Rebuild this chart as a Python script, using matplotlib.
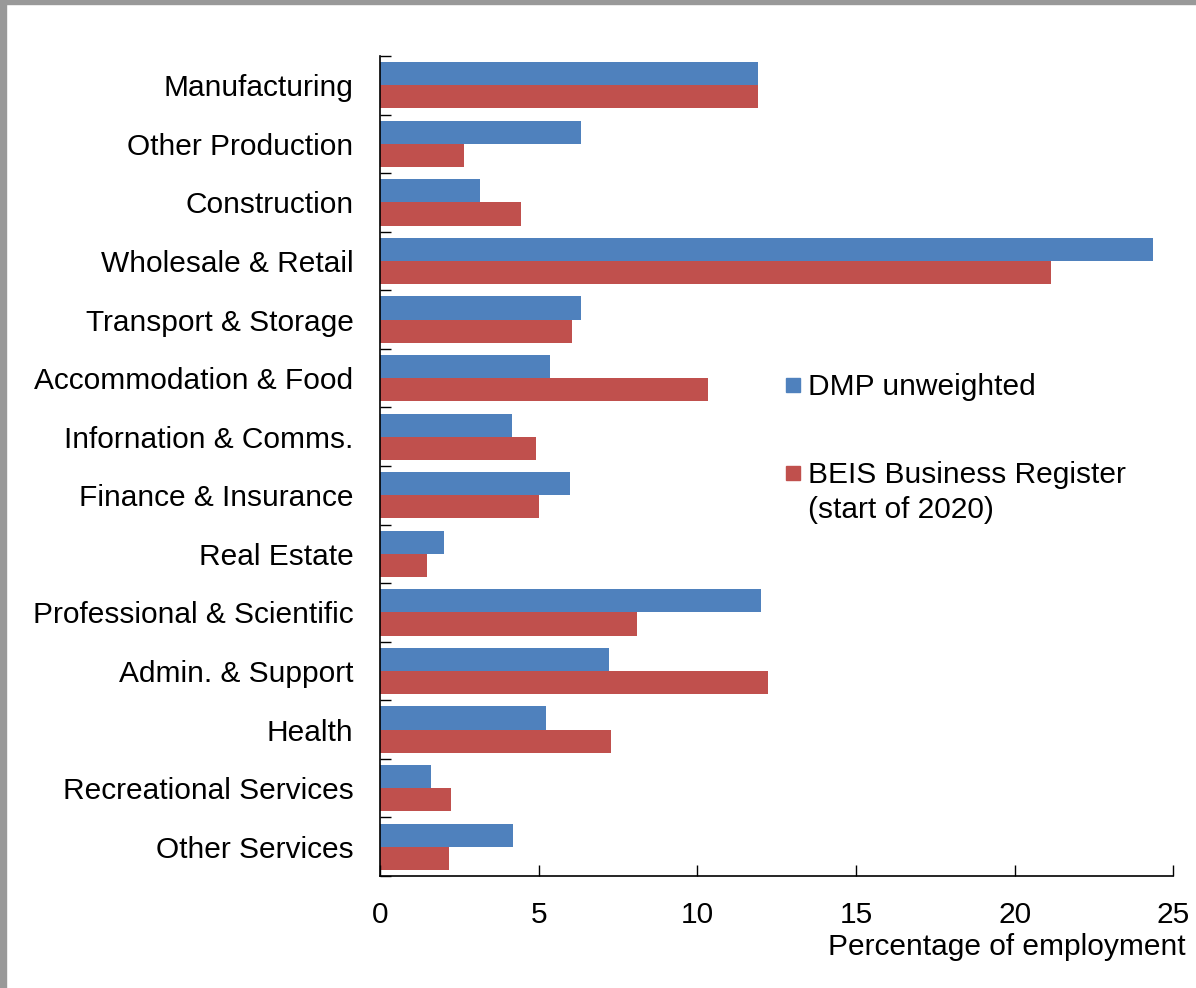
import numpy as np
import matplotlib.pyplot as plt
from matplotlib.patches import Rectangle

plt.rcParams['font.family'] = ['Liberation Sans', 'DejaVu Sans']

sectors = ["Manufacturing", "Other Production", "Construction", "Wholesale & Retail",
           "Transport & Storage", "Accommodation & Food", "Infornation & Comms.",
           "Finance & Insurance", "Real Estate", "Professional & Scientific",
           "Admin. & Support", "Health", "Recreational Services", "Other Services"]
dmp = [11.9, 6.35, 3.15, 24.35, 6.35, 5.35, 4.15, 5.98, 2.01, 12.01, 7.22, 5.22, 1.62, 4.2]
beis = [11.92, 2.66, 4.43, 21.15, 6.04, 10.33, 4.93, 5.0, 1.48, 8.1, 12.23, 7.27, 2.25, 2.16]
series = ["DMP unweighted", "BEIS Business Register\n(start of 2020)"]
colors = ['#4f81bd', '#c0504d']

fs = 21.5
W, H = 1196, 988
fig = plt.figure(figsize=(W/100, H/100), dpi=100)
ax = fig.add_axes([0.3177, 0.1134, 0.6633, 0.8299])

y = np.arange(len(sectors))
h = 0.395
ax.barh(y - h/2, dmp, height=h, color=colors[0])
ax.barh(y + h/2, beis, height=h, color=colors[1])

ax.set_xlim(0, 25)
ax.set_ylim(len(sectors) - 0.5, -0.5)
ax.set_xticks([0, 5, 10, 15, 20, 25])
ax.tick_params(axis='x', direction='in', length=8, width=1, labelsize=fs, pad=18)
ax.set_yticks(y)
ax.set_yticklabels(sectors, fontsize=fs)
ax.tick_params(axis='y', length=0, pad=19)
# category separator ticks on the left spine
ax.set_yticks(np.arange(len(sectors) + 1) - 0.5, minor=True)
ax.tick_params(axis='y', which='minor', direction='in', length=8, width=1)
for s in ['top', 'right']:
    ax.spines[s].set_visible(False)
for s in ['left', 'bottom']:
    ax.spines[s].set_linewidth(1.2)

ax.set_xlabel('Percentage of employment', fontsize=fs, loc='right')
ax.xaxis.set_label_coords(1.015, -0.07)

# legend drawn by hand: square marker + label (first text line next to the square)
leg_y = [385, 473]
line_h = 35
for lab, c, yy in zip(series, colors, leg_y):
    fig.patches.append(Rectangle((786/W, 1 - (yy + 7)/H), 14/W, 14/H,
                                 transform=fig.transFigure, color=c))
    n = lab.count('\n')
    fig.text(808/W, 1 - (yy + 2 + n*line_h/2)/H, lab, fontsize=fs, va='center',
             ha='left', linespacing=1.3)

# grey frame along top and left edge
fig.patches.append(Rectangle((0, 0), 0.005, 1, transform=fig.transFigure, color='#999999', zorder=10))
fig.patches.append(Rectangle((0, 0.996), 1, 0.004, transform=fig.transFigure, color='#999999', zorder=10))

fig.savefig('out.png', dpi=100)
